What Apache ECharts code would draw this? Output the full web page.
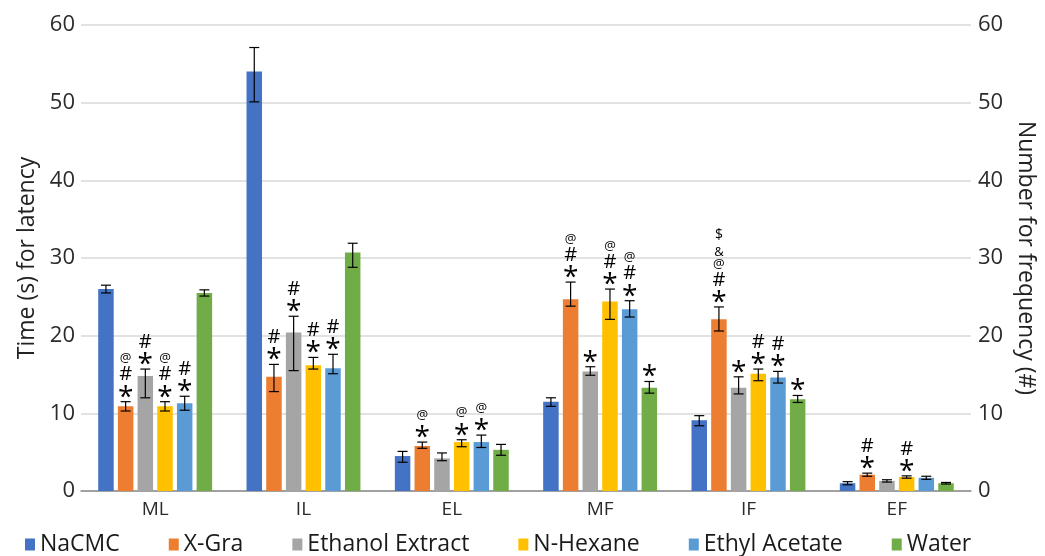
<!DOCTYPE html>
<html>
<head>
<meta charset="utf-8">
<script src="https://cdn.jsdelivr.net/npm/echarts@6/dist/echarts.min.js"></script>
<style>
  html, body { margin: 0; padding: 0; background: #fff; }
  #chart { width: 1045px; height: 556px; }
</style>
</head>
<body>
<div id="chart"></div>
<script>
// Behaviour tests: latency (s) and frequency counts per treatment group
const categories = ['ML', 'IL', 'EL', 'MF', 'IF', 'EF'];
const seriesNames = ['NaCMC', 'X-Gra', 'Ethanol Extract', 'N-Hexane', 'Ethyl Acetate', 'Water'];
const seriesColors = ['#4472C4', '#ED7D31', '#A5A5A5', '#FFC000', '#5B9BD5', '#70AD47'];

// Mean values
const naCMC          = [26.0, 54.0, 4.5, 11.5, 9.1, 1.0];
const xGra           = [10.9, 14.7, 5.8, 24.7, 22.1, 2.1];
const ethanolExtract = [14.8, 20.4, 4.2, 15.4, 13.3, 1.3];
const nHexane        = [10.9, 16.2, 6.3, 24.4, 15.1, 1.8];
const ethylAcetate   = [11.3, 15.8, 6.3, 23.4, 14.6, 1.7];
const water          = [25.5, 30.7, 5.3, 13.3, 11.8, 1.0];

// Error bar extents above and below the mean
const naCMCUp   = [0.5, 3.1, 0.6, 0.5, 0.6, 0.2];
const naCMCDown = [0.5, 3.9, 0.8, 0.6, 0.7, 0.2];
const xGraUp    = [0.6, 1.6, 0.5, 2.2, 1.6, 0.2];
const xGraDown  = [0.6, 1.9, 0.3, 0.9, 1.5, 0.2];
const ethUp     = [0.9, 2.1, 0.7, 0.6, 1.4, 0.15];
const ethDown   = [2.8, 4.9, 0.3, 0.5, 0.8, 0.15];
const hexUp     = [0.6, 1.0, 0.3, 1.6, 0.6, 0.15];
const hexDown   = [0.6, 0.5, 0.6, 2.3, 0.9, 0.15];
const acetUp    = [0.9, 1.8, 0.9, 1.1, 0.8, 0.2];
const acetDown  = [0.9, 0.7, 0.7, 1.0, 0.7, 0.2];
const waterUp   = [0.4, 1.2, 0.7, 0.8, 0.5, 0.1];
const waterDown = [0.4, 1.9, 0.7, 0.7, 0.4, 0.1];

// Significance marks, listed from the bottom of the stack upwards
const naCMCSig = ['', '', '', '', '', ''];
const xGraSig  = ['*#@', '*#', '*@', '*#@', '*#@&$', '*#'];
const ethSig   = ['*#', '*#', '', '*', '*', ''];
const hexSig   = ['*#@', '*#', '*@', '*#@', '*#', '*#'];
const acetSig  = ['*#', '*#', '*@', '*#@', '*#', ''];
const waterSig = ['', '', '', '*', '*', ''];

const yTicksMin = 0, yTicksMax = 60, yTicksStep = 10;

const values  = [naCMC, xGra, ethanolExtract, nHexane, ethylAcetate, water];
const errUp   = [naCMCUp, xGraUp, ethUp, hexUp, acetUp, waterUp];
const errDown = [naCMCDown, xGraDown, ethDown, hexDown, acetDown, waterDown];
const marks   = [naCMCSig, xGraSig, ethSig, hexSig, acetSig, waterSig];

const FONT = '"Open Sans", "Liberation Sans", sans-serif';
const BAR_W = 15.5;
const BAR_GAP = 0.27;
const BAR_STEP = BAR_W * (1 + BAR_GAP);
const CAP_HALF = 5;

// Glyph settings for the stacked marks: size, rise from previous mark, vertical nudge
const markStyle = {
  '*': { size: 28, rise: 10, dy: 6 },
  '#': { size: 20, rise: 16, dy: 0 },
  '@': { size: 13, rise: 16, dy: 0 },
  '&': { size: 13, rise: 12, dy: 0 },
  '$': { size: 14, rise: 17, dy: 0 }
};

const barSeries = seriesNames.map((name, si) => ({
  type: 'bar',
  name: name,
  data: values[si],
  barWidth: BAR_W,
  barGap: (BAR_GAP * 100) + '%',
  itemStyle: { color: seriesColors[si] },
  emphasis: { disabled: true },
  z: 2
}));

const errSeries = seriesNames.map((name, si) => ({
  type: 'custom',
  name: name,
  z: 5,
  silent: true,
  data: values[si].map((v, i) => [i, v]),
  renderItem: function (params, api) {
    const i = params.dataIndex;
    const v = values[si][i];
    const base = api.coord([i, v]);
    const x = base[0] + (si - 2.5) * BAR_STEP;
    const yHi = api.coord([i, v + errUp[si][i]])[1];
    const yLo = api.coord([i, v - errDown[si][i]])[1];
    const lineStyle = { stroke: '#000', lineWidth: 1.2 };
    const children = [
      { type: 'line', shape: { x1: x, y1: yHi, x2: x, y2: yLo }, style: lineStyle },
      { type: 'line', shape: { x1: x - CAP_HALF, y1: yHi, x2: x + CAP_HALF, y2: yHi }, style: lineStyle },
      { type: 'line', shape: { x1: x - CAP_HALF, y1: yLo, x2: x + CAP_HALF, y2: yLo }, style: lineStyle }
    ];
    let y = yHi;
    for (const ch of marks[si][i]) {
      const ms = markStyle[ch];
      y -= ms.rise;
      children.push({
        type: 'text',
        style: {
          text: ch, x: x, y: y + ms.dy,
          fill: '#000', align: 'center', verticalAlign: 'middle',
          font: ms.size + 'px ' + FONT
        }
      });
      if (ch === '*') y -= 1;
    }
    return { type: 'group', children: children };
  }
}));

const yAxisCommon = {
  type: 'value',
  min: yTicksMin, max: yTicksMax, interval: yTicksStep,
  nameLocation: 'middle',
  nameTextStyle: { fontFamily: FONT, fontSize: 23, color: '#222' },
  axisLine: { show: false },
  axisTick: { show: false },
  axisLabel: { fontFamily: FONT, fontSize: 22, color: '#2b2b2b' },
  splitLine: { show: true, lineStyle: { color: '#d9d9d9', width: 1.5 } }
};

const chart = echarts.init(document.getElementById('chart'), null, { renderer: 'canvas' });
chart.setOption({
  animation: false,
  backgroundColor: '#fff',
  grid: { left: 81, right: 72, top: 25, bottom: 65, containLabel: false },
  legend: {
    data: seriesNames,
    top: 528,
    left: 20,
    icon: 'rect',
    itemWidth: 10,
    itemHeight: 12,
    itemGap: 49,
    textStyle: { fontFamily: FONT, fontSize: 23, color: '#1a1a1a', padding: [0, 0, 0, 0] },
    selectedMode: false
  },
  xAxis: {
    type: 'category',
    data: categories,
    axisLine: { show: true, lineStyle: { color: '#8c8c8c', width: 1.5 } },
    axisTick: { show: false },
    axisLabel: { fontFamily: FONT, fontSize: 19, color: '#2b2b2b', margin: 9 }
  },
  yAxis: [
    Object.assign({}, yAxisCommon, {
      position: 'left',
      name: 'Time (s) for latency',
      nameGap: 42,
      nameRotate: 90,
      axisLabel: Object.assign({}, yAxisCommon.axisLabel, { margin: 6 })
    }),
    Object.assign({}, yAxisCommon, {
      position: 'right',
      name: 'Number for frequency (#)',
      nameGap: 40,
      nameRotate: -90,
      splitLine: { show: false },
      axisLabel: Object.assign({}, yAxisCommon.axisLabel, { margin: 7 })
    })
  ],
  series: barSeries.concat(errSeries)
});
</script>
</body>
</html>
